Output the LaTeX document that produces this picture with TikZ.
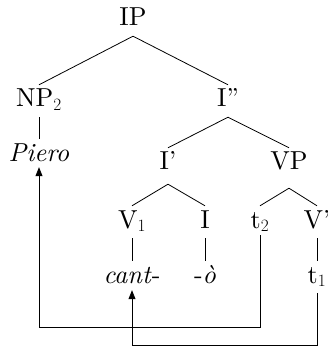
\documentclass[tikz,border=0pt]{standalone}
\usepackage{fontspec}
\setmainfont{lmroman10-regular.otf}[ItalicFont=lmroman10-italic.otf]
\usetikzlibrary{arrows.meta}
\begin{document}
\begin{tikzpicture}[x=1pt,y=-1pt,
  lbl/.style={anchor=base, font=\fontsize{26}{31}\selectfont, text height=18pt, text depth=6pt, inner sep=4pt},
  edge/.style={line width=0.8pt},
  mv/.style={line width=0.8pt, -{Triangle[length=9pt,width=7pt]}}]
\useasboundingbox (0,0) rectangle (327,347);
\node[lbl] (ip) at (133,26) {IP};
\node[lbl] (np) at (39,107) {NP$_2$};
\node[lbl] (ibarb) at (228,107) {I''};
\node[lbl] (piero) at (39,161) {\textit{Piero}};
\node[lbl] (ibar) at (168,170) {I'};
\node[lbl] (vp) at (289,170) {VP};
\node[lbl] (vone) at (132,228) {V$_1$};
\node[lbl] (infl) at (205,228) {I};
\node[lbl] (ttwo) at (260,228) {t$_2$};
\node[lbl] (vbar) at (317,228) {V'};
\node[lbl] (cant) at (132,283) {\textit{cant}-};
\node[lbl] (o) at (205,283) {-\textit{\`o}};
\node[lbl] (tone) at (317,283) {t$_1$};
\coordinate (bone) at (0,327);
\coordinate (btwo) at (0,345);
\draw[edge] (ip.south) -- (np.north);
\draw[edge] (ip.south) -- (ibarb.north);
\draw[edge] (np.south) -- (piero.north);
\draw[edge] (ibarb.south) -- (ibar.north);
\draw[edge] (ibarb.south) -- (vp.north);
\draw[edge] ([yshift=-4pt]ibar.south) -- (vone.north);
\draw[edge] ([yshift=-4pt]ibar.south) -- (infl.north);
\draw[edge] ([yshift=-8pt]vp.south) -- (ttwo.north);
\draw[edge] ([yshift=-8pt]vp.south) -- (vbar.north);
\draw[edge] (vone.south) -- (cant.north);
\draw[edge] (infl.south) -- (o.north);
\draw[edge] (vbar.south) -- (tone.north);
\draw[mv] ([yshift=3pt]ttwo.south) -- (ttwo.south |- bone) -| ([yshift=4pt]piero.south);
\draw[mv] (tone.south) -- (tone.south |- btwo) -| ([yshift=3pt]cant.south);
\end{tikzpicture}
\end{document}
